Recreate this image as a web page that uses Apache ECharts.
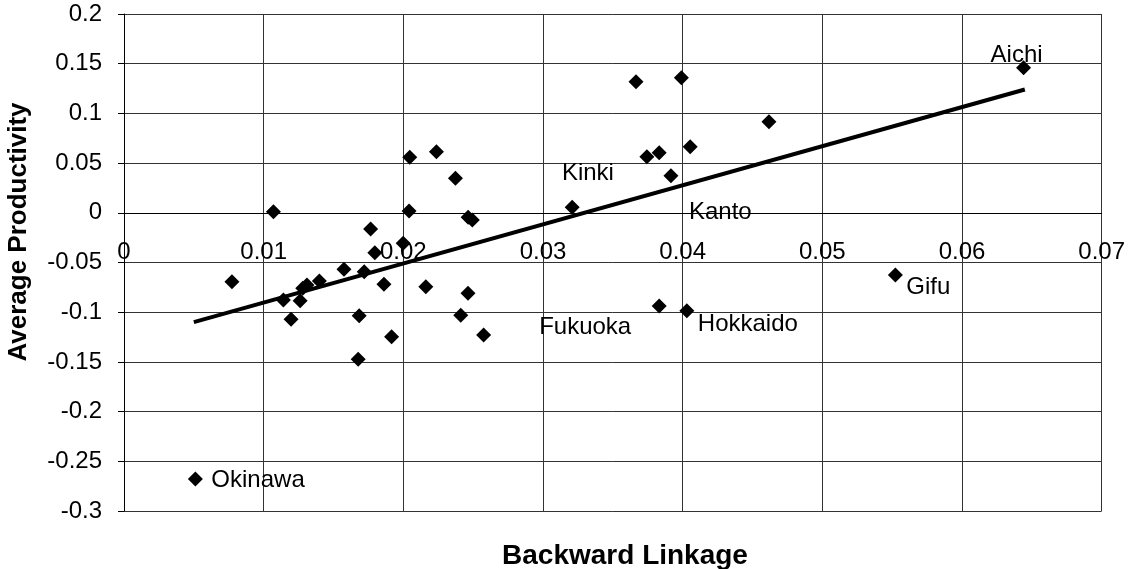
<!DOCTYPE html>
<html><head><meta charset="utf-8">
<script src="https://cdn.jsdelivr.net/npm/echarts@6/dist/echarts.min.js"></script>
<style>html,body{margin:0;padding:0;background:#fff}#c{width:1128px;height:569px}</style>
</head><body><div id="c"></div>
<script>
// Backward linkage (x) and average productivity (y) per region
const backwardLinkage = [
  0.00773, 0.0107, 0.01141, 0.01196, 0.01261, 0.0128, 0.0131, 0.01399, 0.01575, 0.01684,
  0.01677, 0.0172, 0.01766, 0.01796, 0.01861, 0.01916, 0.01999, 0.02041, 0.02046, 0.02161,
  0.02237, 0.02373, 0.02411, 0.02463, 0.02464, 0.02494, 0.02575, 0.03209, 0.03666, 0.03744,
  0.03832, 0.03916, 0.03991, 0.04054, 0.04618, 0.03832, 0.0403, 0.05523, 0.06441, 0.00511
];
const avgProductivity = [
  -0.0693, 0.0011, -0.0877, -0.1071, -0.0884, -0.0760, -0.0727, -0.0686, -0.0569, -0.1035,
  -0.1474, -0.0593, -0.0163, -0.0401, -0.0720, -0.1246, -0.0307, 0.0018, 0.0558, -0.0743,
  0.0615, 0.0347, -0.1031, -0.0810, -0.0045, -0.0072, -0.1229, 0.0055, 0.1319, 0.0564,
  0.0605, 0.0373, 0.1359, 0.0665, 0.0917, -0.0938, -0.0985, -0.0626, 0.146, -0.2678
];
const pointNames = [
  '', '', '', '', '', '', '', '', '', '',
  '', '', '', '', '', '', '', '', '', '',
  '', '', '', '', '', '', '', '', '', 'Kinki',
  '', 'Kanto', '', '', '', 'Fukuoka', 'Hokkaido', 'Gifu', 'Aichi', 'Okinawa'
];
// Linear trend line end points
const trendX = [0.005, 0.0645];
const trendY = [-0.110, 0.124];
// Axis ranges [min, max, interval]
const xAxisRange = [0, 0.07, 0.01];
const yAxisRange = [-0.3, 0.2, 0.05];

// Label placement (style, not data)
const labelPlacement = {
  Kinki:    {align: 'right',  offset: [-33, 17]},
  Kanto:    {align: 'left',   offset: [18, 37]},
  Fukuoka:  {align: 'right',  offset: [-28, 21]},
  Hokkaido: {align: 'left',   offset: [11, 14]},
  Gifu:     {align: 'left',   offset: [11, 12]},
  Aichi:    {align: 'center', offset: [-7, -12]},
  Okinawa:  {align: 'left',   offset: [16, 1]}
};

const FONT = '"Liberation Sans", Arial, sans-serif';
const scatterData = backwardLinkage.map((x, i) => {
  const item = {name: pointNames[i], value: [x, avgProductivity[i]]};
  const lp = labelPlacement[pointNames[i]];
  if (lp) {
    item.label = {
      show: true, formatter: '{b}', position: 'inside',
      align: lp.align, verticalAlign: 'middle', offset: lp.offset,
      color: '#000', fontSize: 24, fontFamily: FONT, textBorderWidth: 0
    };
  }
  return item;
});
const trendData = trendX.map((x, i) => [x, trendY[i]]);
const fmt = v => String(parseFloat(v.toFixed(4)));

const chart = echarts.init(document.getElementById('c'), null, {renderer: 'canvas'});
chart.setOption({
  animation: false,
  backgroundColor: '#fff',
  grid: {left: 124, right: 25, top: 14, bottom: 58, containLabel: false},
  xAxis: {
    type: 'value', min: xAxisRange[0], max: xAxisRange[1], interval: xAxisRange[2],
    axisLine: {show: true, onZero: false, lineStyle: {color: '#000', width: 1}},
    axisTick: {show: false},
    axisLabel: {color: '#000', fontSize: 24, fontFamily: FONT, margin: 28, formatter: fmt},
    splitLine: {show: true, lineStyle: {color: '#333', width: 1}}
  },
  yAxis: {
    type: 'value', min: yAxisRange[0], max: yAxisRange[1], interval: yAxisRange[2],
    axisLine: {show: true, onZero: false, lineStyle: {color: '#000', width: 1}},
    axisTick: {show: true, length: 6, lineStyle: {color: '#000'}},
    axisLabel: {color: '#000', fontSize: 24, fontFamily: FONT, margin: 22, formatter: fmt},
    splitLine: {show: true, lineStyle: {color: '#333', width: 1}}
  },
  graphic: [
    {type: 'text', x: 19, y: 232, rotation: Math.PI / 2,
     style: {text: 'Average Productivity', fontSize: 26, fontWeight: 'bold', fontFamily: FONT,
             align: 'center', verticalAlign: 'middle', fill: '#000'}},
    {type: 'text', x: 625, y: 556,
     style: {text: 'Backward Linkage', fontSize: 28, fontWeight: 'bold', fontFamily: FONT,
             align: 'center', verticalAlign: 'middle', fill: '#000'}}
  ],
  series: [
    {type: 'line', data: trendData, showSymbol: false, symbol: 'none', z: 2,
     lineStyle: {color: '#000', width: 4}, silent: true},
    {type: 'scatter', data: scatterData, symbol: 'diamond', symbolSize: 15, z: 3,
     itemStyle: {color: '#000', opacity: 1}}
  ]
});
// Move the x axis onto y = 0 (Excel style crossing)
const zeroY = chart.convertToPixel({yAxisIndex: 0}, 0);
const bottomY = chart.convertToPixel({yAxisIndex: 0}, yAxisRange[0]);
chart.setOption({xAxis: {offset: zeroY - bottomY}});
</script></body></html>
